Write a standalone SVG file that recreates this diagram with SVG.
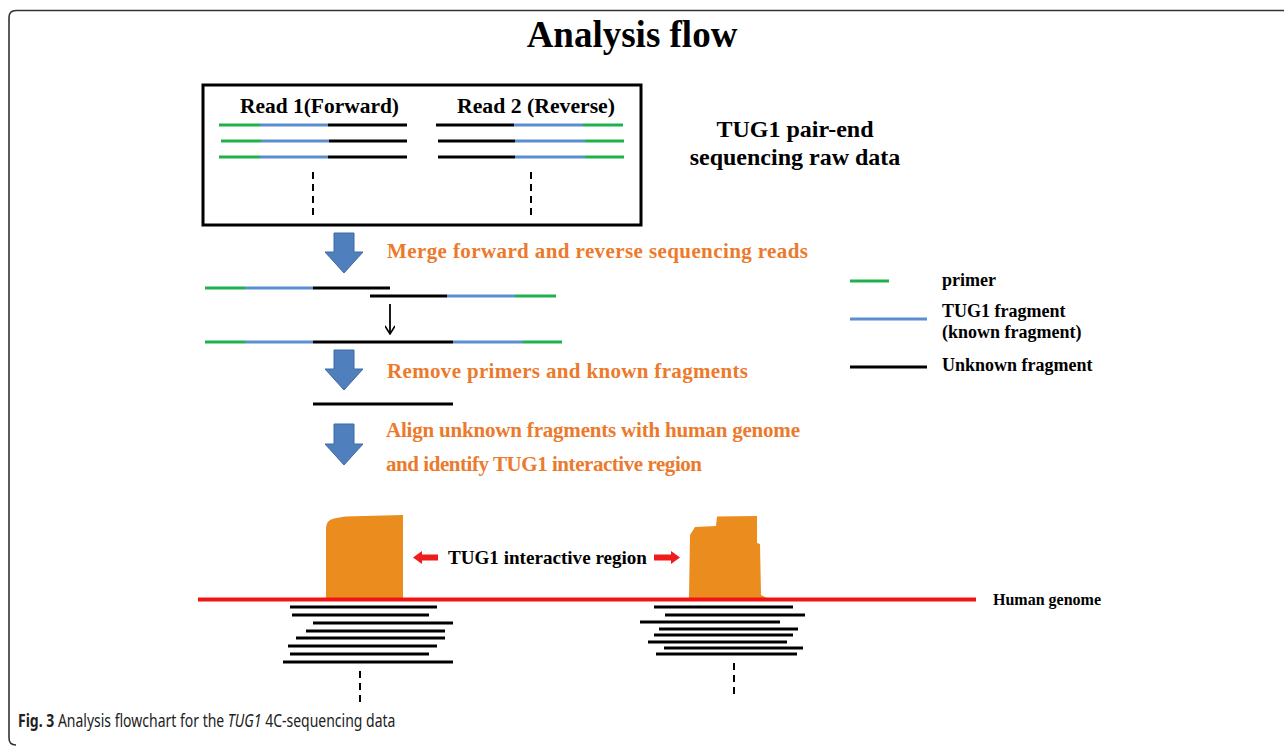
<svg xmlns="http://www.w3.org/2000/svg" width="1284" height="747" viewBox="0 0 1284 747">
<style>
.serif{font-family:"Liberation Serif","Times New Roman",serif;font-weight:bold;}
.orange{fill:#ec7a2c;font-size:21px;}
.cap{font-family:"Noto Sans","Open Sans",sans-serif;font-size:17.5px;fill:#222;}
.g{stroke:#1fb14d;stroke-width:3;fill:none;}
.b{stroke:#5b8ed0;stroke-width:3;fill:none;}
.k{stroke:#000;stroke-width:3;fill:none;}
.dash{stroke:#000;stroke-width:2;stroke-dasharray:7,5;fill:none;}
.bigarrow{fill:#4f80bd;stroke:#3d6ba3;stroke-width:1;}
.peak{fill:#ea8c1e;}
.read{stroke:#000;stroke-width:3;}
</style>
<defs>
<marker id="openhead" viewBox="0 0 10 10" refX="9" refY="5" markerWidth="10" markerHeight="10" markerUnits="userSpaceOnUse" orient="auto">
<path d="M1,0 L9,5 L1,10" fill="none" stroke="#000" stroke-width="1.6"/>
</marker>
</defs>
<rect width="1284" height="747" fill="#fff"/>
<!-- frame -->
<path d="M1284,10.5 H16 Q9,10.5 9,17.5 V738 Q9,745 16,745" fill="none" stroke="#333" stroke-width="1.6"/>
<text class="serif" x="632" y="47" font-size="37" text-anchor="middle" fill="#000">Analysis flow</text>

<g id="raw-data">
<rect x="203" y="85" width="438" height="140" fill="none" stroke="#000" stroke-width="3"/>
<text class="serif" x="240" y="113" font-size="21" textLength="159" lengthAdjust="spacingAndGlyphs">Read 1(Forward)</text>
<text class="serif" x="457" y="113" font-size="21" textLength="158" lengthAdjust="spacingAndGlyphs">Read 2 (Reverse)</text>
<line class="g" x1="219" y1="125" x2="260" y2="125"/><line class="b" x1="260" y1="125" x2="328" y2="125"/><line class="k" x1="328" y1="125" x2="407" y2="125"/>
<line class="g" x1="221" y1="141" x2="261" y2="141"/><line class="b" x1="261" y1="141" x2="329" y2="141"/><line class="k" x1="329" y1="141" x2="407" y2="141"/>
<line class="g" x1="219" y1="157" x2="260" y2="157"/><line class="b" x1="260" y1="157" x2="328" y2="157"/><line class="k" x1="328" y1="157" x2="407" y2="157"/>
<line class="k" x1="436" y1="125" x2="514" y2="125"/><line class="b" x1="514" y1="125" x2="583" y2="125"/><line class="g" x1="583" y1="125" x2="623" y2="125"/>
<line class="k" x1="438" y1="141" x2="515" y2="141"/><line class="b" x1="515" y1="141" x2="585" y2="141"/><line class="g" x1="585" y1="141" x2="624" y2="141"/>
<line class="k" x1="438" y1="157" x2="515" y2="157"/><line class="b" x1="515" y1="157" x2="585" y2="157"/><line class="g" x1="585" y1="157" x2="624" y2="157"/>
<line class="dash" x1="313" y1="172" x2="313" y2="219"/>
<line class="dash" x1="531" y1="172" x2="531" y2="219"/>
</g>

<g id="raw-label">
<text class="serif" x="795" y="137" font-size="24" text-anchor="middle">TUG1 pair-end</text>
<text class="serif" x="795" y="165" font-size="24" text-anchor="middle">sequencing raw data</text>
</g>

<g id="connectors">
<path class="bigarrow" d="M334,233 H354 V252 H363 L344,273 L325,252 H334 Z"/>
<path class="bigarrow" d="M334,350 H354 V369 H363 L344,390 L325,369 H334 Z"/>
<path class="bigarrow" d="M334,424 H354 V444 H363 L344,465 L325,444 H334 Z"/>
<line x1="390" y1="304" x2="390" y2="334" stroke="#000" stroke-width="1.8" marker-end="url(#openhead)"/>
</g>

<g id="step-merge">
<text class="serif orange" x="387" y="258" textLength="421" lengthAdjust="spacing">Merge forward and reverse sequencing reads</text>
<line class="g" x1="205" y1="288" x2="245" y2="288"/><line class="b" x1="245" y1="288" x2="313" y2="288"/><line class="k" x1="313" y1="288" x2="390" y2="288"/>
<line class="k" x1="370" y1="296" x2="447" y2="296"/><line class="b" x1="447" y1="296" x2="515" y2="296"/><line class="g" x1="515" y1="296" x2="556" y2="296"/>
<line class="g" x1="205" y1="342" x2="245" y2="342"/><line class="b" x1="245" y1="342" x2="313" y2="342"/><line class="k" x1="313" y1="342" x2="453" y2="342"/><line class="b" x1="453" y1="342" x2="523" y2="342"/><line class="g" x1="523" y1="342" x2="562" y2="342"/>
</g>

<g id="step-remove">
<text class="serif orange" x="387" y="378" textLength="361" lengthAdjust="spacing">Remove primers and known fragments</text>
<line class="k" x1="313" y1="404" x2="453" y2="404"/>
</g>

<g id="step-align">
<text class="serif orange" x="386" y="437" textLength="414" lengthAdjust="spacing">Align unknown fragments with human genome</text>
<text class="serif orange" x="386" y="471" textLength="316" lengthAdjust="spacing">and identify TUG1 interactive region</text>
</g>

<g id="legend">
<line class="g" x1="850" y1="281" x2="889" y2="281"/>
<text class="serif" x="942" y="286" font-size="18">primer</text>
<line class="b" x1="850" y1="319" x2="927" y2="319"/>
<text class="serif" x="942" y="317" font-size="18">TUG1 fragment</text>
<text class="serif" x="942" y="338" font-size="18">(known fragment)</text>
<line class="k" x1="850" y1="367" x2="927" y2="367"/>
<text class="serif" x="942" y="371" font-size="18">Unknown fragment</text>
</g>

<g id="peak-left">
<path class="peak" d="M326,599 V528 Q326,520 334,518.5 L345,516.5 L403,515 V599 Z"/>
<g class="read">
<line x1="290" y1="607" x2="437" y2="607"/>
<line x1="292" y1="615" x2="429" y2="615"/>
<line x1="313" y1="623" x2="453" y2="623"/>
<line x1="306" y1="631" x2="445" y2="631"/>
<line x1="296" y1="638" x2="445" y2="638"/>
<line x1="288" y1="646" x2="437" y2="646"/>
<line x1="290" y1="654" x2="429" y2="654"/>
<line x1="283" y1="662" x2="453" y2="662"/>
</g>
<line class="dash" x1="360" y1="671" x2="360" y2="706"/>
</g>

<g id="peak-right">
<path class="peak" d="M689,598 L690,535 L695,527 L716,526 L717,516.5 L757,516 L757,543 L760,544 L761,595 L767,598 Z"/>
<g class="read">
<line x1="654" y1="607" x2="793" y2="607"/>
<line x1="665" y1="615" x2="805" y2="615"/>
<line x1="640" y1="622" x2="780" y2="622"/>
<line x1="659" y1="629" x2="798" y2="629"/>
<line x1="654" y1="635" x2="793" y2="635"/>
<line x1="648" y1="642" x2="787" y2="642"/>
<line x1="664" y1="648" x2="803" y2="648"/>
<line x1="656" y1="654" x2="797" y2="654"/>
</g>
<line class="dash" x1="734" y1="663" x2="734" y2="694"/>
</g>

<g id="genome">
<line x1="198" y1="599.5" x2="976" y2="599.5" stroke="#f01414" stroke-width="4"/>
<text class="serif" x="993" y="605" font-size="16">Human genome</text>
</g>

<g id="region-label">
<path d="M413,557.5 L422,551 V554.5 H438 V560.5 H422 V564 Z" fill="#ee1c1c"/>
<path d="M680,557.5 L671,551 V554.5 H654 V560.5 H671 V564 Z" fill="#ee1c1c"/>
<text class="serif" x="448" y="564" font-size="19" textLength="199" lengthAdjust="spacingAndGlyphs">TUG1 interactive region</text>
</g>

<g id="caption" transform="translate(18,727) scale(0.8,1)">
<text class="cap" x="0" y="0"><tspan font-weight="bold">Fig. 3</tspan> Analysis flowchart for the <tspan font-style="italic">TUG1</tspan> 4C-sequencing data</text>
</g>
</svg>
